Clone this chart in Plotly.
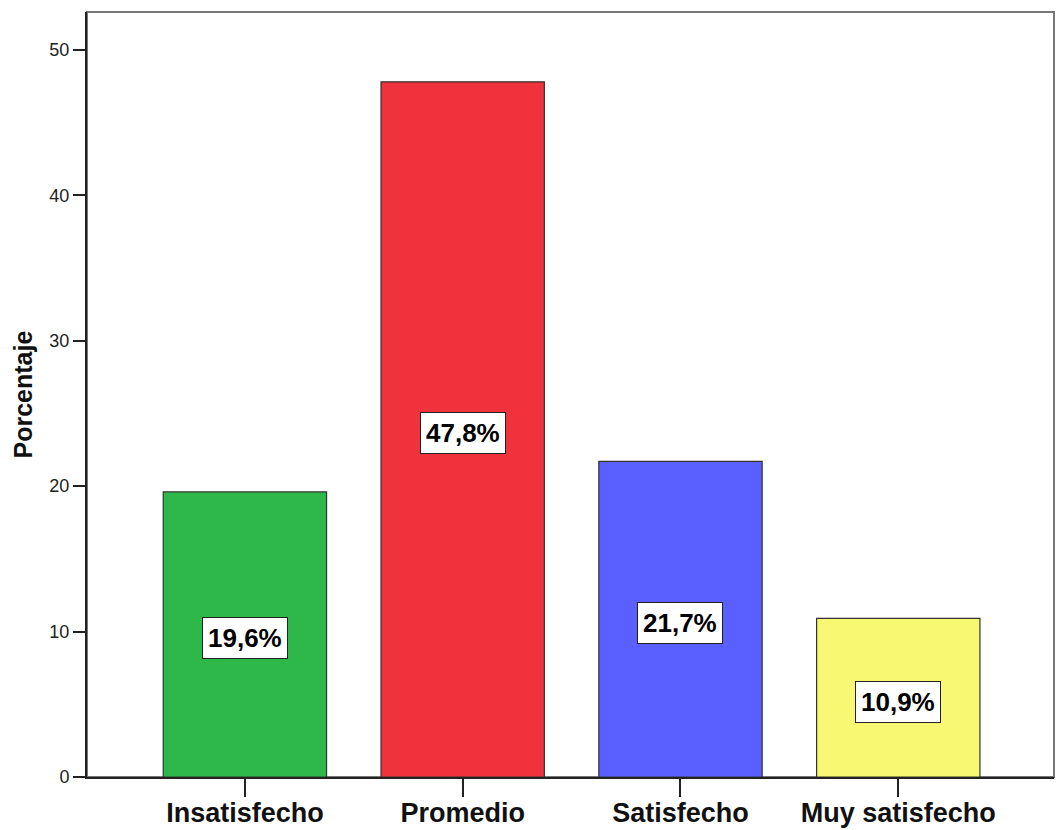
import plotly.graph_objects as go

categories = ["Insatisfecho", "Promedio", "Satisfecho", "Muy satisfecho"]
values = [19.6, 47.8, 21.7, 10.9]
value_labels = ["19,6%", "47,8%", "21,7%", "10,9%"]
colors = ["#2EB84A", "#F0323C", "#5A5FFF", "#F9F872"]
y_ticks = [0, 10, 20, 30, 40, 50]

fig = go.Figure()
fig.add_trace(go.Bar(
    x=categories, y=values,
    marker=dict(color=colors, line=dict(color="#333333", width=1.2)),
    width=0.75, hoverinfo="skip", showlegend=False,
))
# invisible helper trace carrying the category labels on an overlaid axis
fig.add_trace(go.Scatter(
    x=categories, y=values, xaxis="x2", yaxis="y", mode="markers",
    marker=dict(opacity=0), hoverinfo="skip", showlegend=False,
))

for c, v, lab in zip(categories, values, value_labels):
    fig.add_annotation(
        x=c, y=v / 2, xref="x", yref="y", text="<b>" + lab + "</b>", showarrow=False,
        font=dict(family="Liberation Sans, Arial", size=26, color="black"),
        bgcolor="white", bordercolor="#222222", borderwidth=1, borderpad=5,
        yshift=-4,
    )

fig.add_annotation(
    x=-0.0672, y=0.5, xref="paper", yref="paper", text="<b>Porcentaje</b>",
    textangle=-90, showarrow=False, xanchor="center", yanchor="middle",
    font=dict(family="Liberation Sans, Arial", size=25, color="#111111"),
)

# frame (top/right gray)
fig.add_shape(type="rect", xref="paper", yref="paper", x0=0, y0=0, x1=1, y1=1,
              line=dict(color="#777777", width=2), layer="below")

fig.update_layout(
    width=1056, height=830,
    margin=dict(l=87, r=2, t=12, b=53, autoexpand=False),
    paper_bgcolor="white", plot_bgcolor="white",
    bargap=0.25,
    xaxis=dict(
        range=[-0.725, 3.715], showgrid=False, zeroline=False, automargin=False,
        showline=True, linecolor="#222222", linewidth=2,
        ticks="outside", ticklen=18, tickwidth=1.5, tickcolor="#222222",
        showticklabels=False,
    ),
    xaxis2=dict(
        overlaying="x", side="bottom", matches="x",
        range=[-0.725, 3.715], showgrid=False, zeroline=False, automargin=False,
        showline=False, ticks="outside", ticklen=12, tickcolor="rgba(0,0,0,0)",
        tickfont=dict(family="Liberation Sans, Arial", size=27, color="#111111"),
        tickprefix="<b>", ticksuffix="</b>",
    ),
    yaxis=dict(
        range=[0, 52.6], showgrid=False, zeroline=False, automargin=False,
        showline=True, linecolor="#222222", linewidth=2,
        tickvals=y_ticks, ticks="outside", ticklen=12, tickwidth=1.5, tickcolor="#222222",
        tickfont=dict(family="Liberation Sans, Arial", size=18, color="#222222"),
    ),
)

fig.write_html("out.html")
